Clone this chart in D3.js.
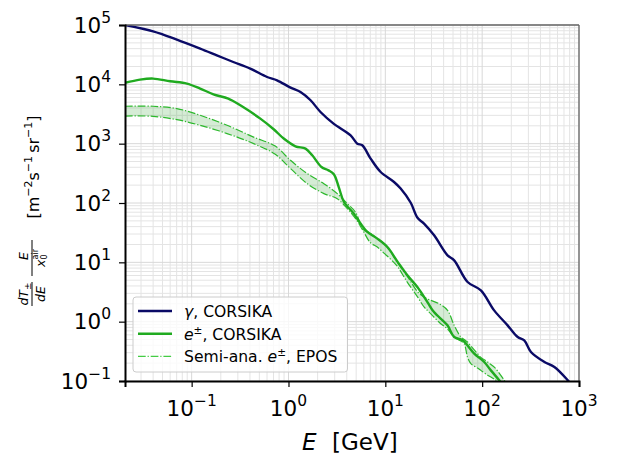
<!DOCTYPE html>
<html>
<head>
<meta charset="utf-8">
<script src="https://cdn.jsdelivr.net/npm/d3@7"></script>
<style>
  body { margin: 0; background: #fff; }
  svg { font-family: "DejaVu Sans", sans-serif; }
</style>
</head>
<body>
<div id="chart"></div>
<script>
// photon spectrum, CORSIKA
const gammaE = [0.0205, 0.040, 0.0703, 0.1225, 0.182, 0.269, 0.403, 0.601, 0.762, 1.05, 1.33, 1.69, 2.14, 2.92, 4.38, 5.14, 5.78, 7.05, 8.95, 12.3, 14.4, 18.3, 21.5, 25.1, 31.9, 43.9, 51.4, 70.7, 97, 133, 183, 233, 272, 319, 439, 557, 766, 1000];
const gammaV = [100000, 78000, 56700, 40000, 30800, 23800, 18400, 13300, 11700, 8810, 7430, 5390, 3420, 2180, 1380, 1000, 938, 560, 333, 226, 175, 101, 56.3, 45, 28.5, 13.1, 10.8, 4.66, 3.37, 1.55, 0.867, 0.551, 0.485, 0.308, 0.209, 0.172, 0.1026, 0.06];

// e+- spectrum, CORSIKA
const elecE = [0.0205, 0.0293, 0.040, 0.060, 0.0893, 0.1225, 0.168, 0.239, 0.318, 0.512, 0.703, 0.893, 1.18, 1.50, 1.76, 2.19, 2.59, 2.94, 3.31, 3.73, 4.73, 5.55, 6.52, 8.27, 10.5, 13.3, 16.9, 21.5, 27.2, 31.8, 43.8, 51.4, 62.8, 82.8, 105, 123, 150, 180];
const elecV = [10600, 12000, 12500, 11250, 10300, 8470, 6790, 5740, 4430, 2640, 1750, 1220, 902, 826, 636, 404, 355, 305, 184, 105, 66.2, 45, 32.5, 25.1, 18.1, 10.4, 6.05, 3.80, 2.14, 1.45, 0.867, 0.551, 0.485, 0.289, 0.209, 0.151, 0.103, 0.07];

// semi-analytical e+- band, EPOS
const bandE = [0.0205, 0.040, 0.0703, 0.1225, 0.232, 0.437, 0.73, 1.05, 1.56, 2.32, 3.19, 4.05, 4.93, 5.9, 7.0, 8.27, 9.68, 11.4, 13.3, 16.9, 21.5, 25.1, 28.3, 35.9, 43.9, 51.4, 60.3, 65.2, 70.7, 76.4, 89.7, 97, 114, 123, 133, 139, 169, 200];
const bandUpper = [4270, 4270, 3900, 3010, 2040, 1290, 910, 524, 313, 212, 144, 97.7, 69.7, 36, 31, 25, 20.7, 14.9, 9.9, 5.8, 3.2, 2.6, 2.35, 2.01, 1.55, 0.867, 0.551, 0.50, 0.454, 0.39, 0.289, 0.25, 0.209, 0.19, 0.172, 0.16, 0.103, 0.07];
const bandLower = [2920, 2890, 2540, 2040, 1480, 1000, 662, 380, 212, 144, 118, 80.4, 54.6, 34, 21.5, 18.1, 14.3, 11.2, 8.57, 4.6, 2.62, 1.77, 1.45, 0.98, 0.75, 0.551, 0.47, 0.426, 0.25, 0.196, 0.165, 0.151, 0.125, 0.117, 0.108, 0.103, 0.08, 0.06];

const xMajor = [-1, 0, 1, 2, 3];
const yMajor = [-1, 0, 1, 2, 3, 4, 5];
const legendLabels = [
  { pre: '', it: 'γ', sup: '', post: ', CORSIKA', kind: 'gamma' },
  { pre: '', it: 'e', sup: '±', post: ', CORSIKA', kind: 'elec' },
  { pre: 'Semi-ana. ', it: 'e', sup: '±', post: ', EPOS', kind: 'band' }
];

const W = 618, H = 457;
const navy = '#0a0a66';
const green = '#1faa1f';
const dashGreen = '#2cb82c';

const svg = d3.select('#chart').append('svg')
  .attr('width', W).attr('height', H);

const x = d3.scaleLog().domain([0.0205, 1000]).range([125, 579]);
const y = d3.scaleLog().domain([0.1, 1e5]).range([381, 25]);

// minor tick values
const xMinor = [], yMinor = [];
for (let p = -2; p <= 2; p++) for (let k = 2; k <= 9; k++) {
  const v = k * Math.pow(10, p);
  if (v >= 0.0205 && v <= 1000) xMinor.push(v);
}
for (let p = -1; p <= 4; p++) for (let k = 2; k <= 9; k++) yMinor.push(k * Math.pow(10, p));

// grid
const grid = svg.append('g');
grid.selectAll('.gx-minor').data(xMinor).enter().append('line')
  .attr('x1', d => x(d)).attr('x2', d => x(d)).attr('y1', 25).attr('y2', 381)
  .attr('stroke', '#e4e4e4').attr('stroke-width', 1);
grid.selectAll('.gy-minor').data(yMinor).enter().append('line')
  .attr('y1', d => y(d)).attr('y2', d => y(d)).attr('x1', 125).attr('x2', 579)
  .attr('stroke', '#e4e4e4').attr('stroke-width', 1);
grid.selectAll('.gx-major').data(xMajor.map(p => Math.pow(10, p))).enter().append('line')
  .attr('x1', d => x(d)).attr('x2', d => x(d)).attr('y1', 25).attr('y2', 381)
  .attr('stroke', '#d8d8d8').attr('stroke-width', 1);
grid.selectAll('.gy-major').data(yMajor.map(p => Math.pow(10, p))).enter().append('line')
  .attr('y1', d => y(d)).attr('y2', d => y(d)).attr('x1', 125).attr('x2', 579)
  .attr('stroke', '#d8d8d8').attr('stroke-width', 1);

svg.append('clipPath').attr('id', 'clip')
  .append('rect').attr('x', 125).attr('y', 25).attr('width', 454).attr('height', 356);

const plot = svg.append('g').attr('clip-path', 'url(#clip)');

const band = bandE.map((e, i) => ({ e, hi: bandUpper[i], lo: bandLower[i] }));

plot.append('path')
  .datum(band)
  .attr('fill', '#2ca02c').attr('fill-opacity', 0.2)
  .attr('d', d3.area().curve(d3.curveCatmullRom)
    .x(d => x(d.e)).y0(d => y(d.lo)).y1(d => y(d.hi)));

const dashLine = key => d3.line().curve(d3.curveCatmullRom).x(d => x(d.e)).y(d => y(d[key]));
['hi', 'lo'].forEach(k => {
  plot.append('path').datum(band)
    .attr('fill', 'none').attr('stroke', dashGreen).attr('stroke-width', 1.2)
    .attr('stroke-dasharray', '7.7,1.9,1.2,1.9')
    .attr('d', dashLine(k));
});

const line = d3.line().curve(d3.curveCatmullRom).x(d => x(d[0])).y(d => y(d[1]));
plot.append('path').datum(elecE.map((e, i) => [e, elecV[i]]))
  .attr('fill', 'none').attr('stroke', green).attr('stroke-width', 2.4)
  .attr('d', line);
plot.append('path').datum(gammaE.map((e, i) => [e, gammaV[i]]))
  .attr('fill', 'none').attr('stroke', navy).attr('stroke-width', 2.4)
  .attr('d', line);

// spines
svg.append('line').attr('x1', 125).attr('x2', 579).attr('y1', 25).attr('y2', 25)
  .attr('stroke', '#666').attr('stroke-width', 1.3);
svg.append('line').attr('x1', 579).attr('x2', 579).attr('y1', 25).attr('y2', 381)
  .attr('stroke', '#666').attr('stroke-width', 1.3);

// axes
const xAxis = svg.append('g').attr('transform', 'translate(0,381)');
xAxis.call(d3.axisBottom(x).tickValues(xMinor).tickSize(3.5).tickFormat(''));
xAxis.call(d3.axisBottom(x).tickValues(xMajor.map(p => Math.pow(10, p))).tickSize(6).tickFormat(''));
const yAxis = svg.append('g').attr('transform', 'translate(125,0)');
yAxis.call(d3.axisLeft(y).tickValues(yMinor).tickSize(3.5).tickFormat(''));
yAxis.call(d3.axisLeft(y).tickValues(yMajor.map(p => Math.pow(10, p))).tickSize(6).tickFormat(''));
svg.selectAll('.domain').attr('stroke', '#000').attr('stroke-width', 2);
svg.selectAll('.tick line').attr('stroke', '#000').attr('stroke-width', 1.2);

const supMinus = p => (p < 0 ? '\u2212' + Math.abs(p) : String(p));

const xl = svg.selectAll('.xlab').data(xMajor).enter().append('text')
  .attr('x', d => x(Math.pow(10, d))).attr('y', 416)
  .attr('text-anchor', 'middle').attr('font-size', 21.5).attr('fill', '#000');
xl.append('tspan').text('10');
xl.append('tspan').attr('font-size', 15.5).attr('dy', -10).text(d => supMinus(d));

const yl = svg.selectAll('.ylab').data(yMajor).enter().append('text')
  .attr('x', 111).attr('y', d => y(Math.pow(10, d)) + 7.5)
  .attr('text-anchor', 'end').attr('font-size', 21.5).attr('fill', '#000');
yl.append('tspan').text('10');
yl.append('tspan').attr('font-size', 15.5).attr('dy', -10).text(d => supMinus(d));

// x label
const xt = svg.append('text').attr('x', 302).attr('y', 450)
  .attr('text-anchor', 'start').attr('font-size', 23);
xt.append('tspan').attr('font-style', 'italic').text('E');
xt.append('tspan').attr('x', 332).text('[GeV]');

// y label (rotated)
const yg = svg.append('g').attr('transform', 'rotate(-90)');
const units = yg.append('text').attr('x', -167).attr('y', 39)
  .attr('text-anchor', 'middle').attr('font-size', 16);
units.append('tspan').text('[m');
units.append('tspan').attr('font-size', 11).attr('dy', -7).text('\u22122');
units.append('tspan').attr('dy', 7).text('s');
units.append('tspan').attr('font-size', 11).attr('dy', -7).text('\u22121');
units.append('tspan').attr('dy', 7).text('\u2009sr');
units.append('tspan').attr('font-size', 11).attr('dy', -7).text('\u22121');
units.append('tspan').attr('dy', 7).text(']');

// fraction dT/dE
const n1 = yg.append('text').attr('x', -294).attr('y', 28)
  .attr('text-anchor', 'middle').attr('font-size', 12.5).attr('font-style', 'italic');
n1.append('tspan').text('dT');
n1.append('tspan').attr('font-size', 9).attr('dy', 3).attr('font-style', 'normal').text('±');
yg.append('line').attr('x1', -306).attr('x2', -282).attr('y1', 32).attr('y2', 32)
  .attr('stroke', '#000').attr('stroke-width', 1);
yg.append('text').attr('x', -294).attr('y', 45)
  .attr('text-anchor', 'middle').attr('font-size', 12.5).attr('font-style', 'italic').text('dE');

// fraction E / x0^air
yg.append('text').attr('x', -256).attr('y', 28)
  .attr('text-anchor', 'middle').attr('font-size', 12.5).attr('font-style', 'italic').text('E');
yg.append('line').attr('x1', -276).attr('x2', -240).attr('y1', 32).attr('y2', 32)
  .attr('stroke', '#000').attr('stroke-width', 1);
const d2 = yg.append('text').attr('x', -258).attr('y', 45)
  .attr('text-anchor', 'middle').attr('font-size', 12.5).attr('font-style', 'italic');
d2.append('tspan').text('x');
d2.append('tspan').attr('font-size', 8).attr('font-style', 'normal').attr('dx', 0).attr('dy', 2).text('0');
d2.append('tspan').attr('font-size', 8).attr('font-style', 'normal').attr('dx', -5).attr('dy', -9).text('air');

// legend
const lg = svg.append('g');
lg.append('rect').attr('x', 133).attr('y', 297).attr('width', 214.5).attr('height', 75)
  .attr('rx', 3).attr('fill', '#fff').attr('fill-opacity', 0.8)
  .attr('stroke', '#ccc').attr('stroke-width', 1);
const rows = lg.selectAll('.row').data(legendLabels).enter().append('g')
  .attr('transform', (d, i) => `translate(0,${311 + i * 22.7})`);
rows.append('line').attr('x1', 138).attr('x2', 172).attr('y1', 0).attr('y2', 0)
  .attr('stroke', d => d.kind === 'gamma' ? navy : d.kind === 'elec' ? green : '#44cc44')
  .attr('stroke-width', d => d.kind === 'band' ? 1.2 : 2.4)
  .attr('stroke-dasharray', d => d.kind === 'band' ? '7.7,1.9,1.2,1.9' : null);
const rt = rows.append('text').attr('x', 184).attr('y', 5.8).attr('font-size', 15.6);
rt.append('tspan').text(d => d.pre);
rt.append('tspan').attr('font-style', 'italic').text(d => d.it);
rt.append('tspan').attr('font-size', 10.5).attr('dy', -6).text(d => d.sup);
rt.append('tspan').attr('dy', d => d.sup ? 6 : 0).text(d => d.post);
</script>
</body>
</html>
